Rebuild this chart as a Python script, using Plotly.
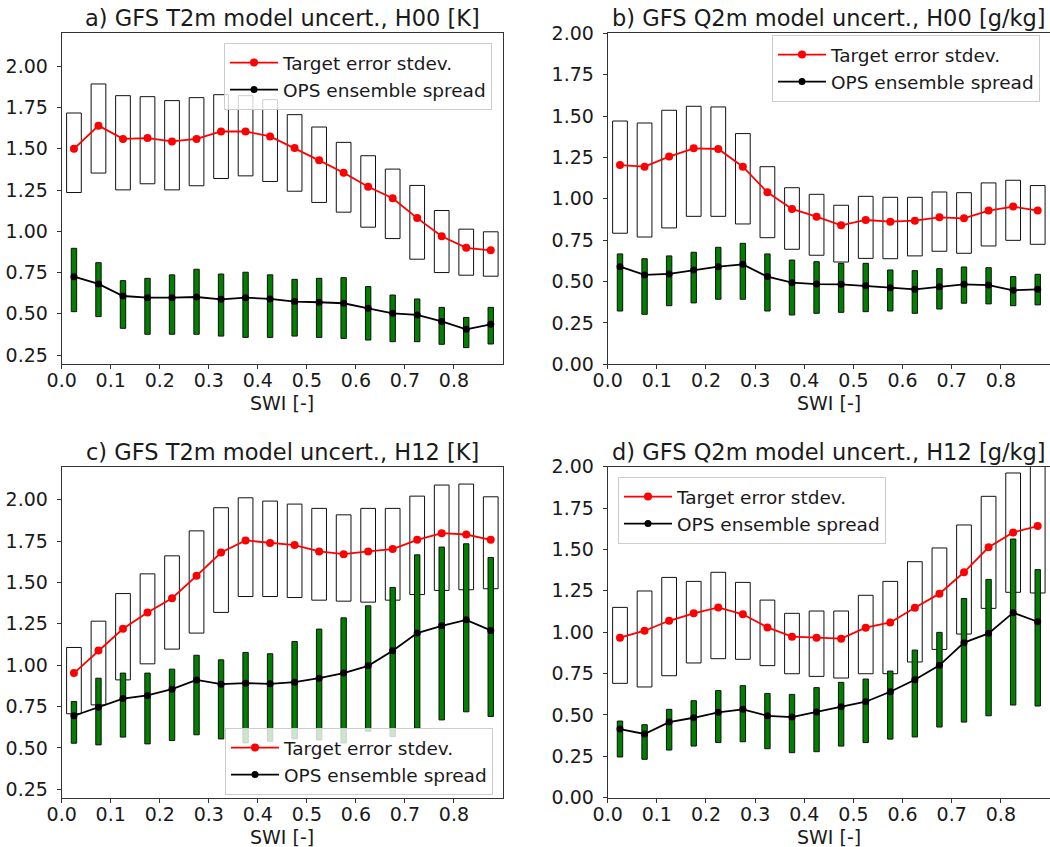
import plotly.graph_objects as go

# SWI bin centres
swi = [0.025, 0.075, 0.125, 0.175, 0.225, 0.275, 0.325, 0.375, 0.425,
       0.475, 0.525, 0.575, 0.625, 0.675, 0.725, 0.775, 0.825, 0.875]

# a) T2m, H00
a_target = [1.50, 1.64, 1.56, 1.565, 1.545, 1.56, 1.605, 1.605, 1.575,
            1.505, 1.43, 1.355, 1.27, 1.20, 1.08, 0.97, 0.90, 0.885]
a_target_hi = [1.717, 1.893, 1.822, 1.816, 1.792, 1.81, 1.828, 1.822, 1.798,
               1.707, 1.632, 1.539, 1.458, 1.377, 1.278, 1.126, 1.013, 0.997]
a_target_lo = [1.235, 1.353, 1.251, 1.288, 1.251, 1.276, 1.320, 1.336, 1.302,
               1.243, 1.175, 1.116, 1.025, 0.956, 0.831, 0.750, 0.734, 0.728]
a_spread = [0.725, 0.681, 0.608, 0.598, 0.598, 0.602, 0.588, 0.598, 0.59,
            0.574, 0.57, 0.564, 0.533, 0.503, 0.493, 0.454, 0.406, 0.436]
a_spread_hi = [0.897, 0.810, 0.701, 0.715, 0.736, 0.770, 0.741, 0.752, 0.736,
               0.709, 0.715, 0.719, 0.665, 0.614, 0.590, 0.539, 0.478, 0.539]
a_spread_lo = [0.513, 0.483, 0.412, 0.376, 0.376, 0.376, 0.365, 0.357, 0.357,
               0.365, 0.357, 0.351, 0.341, 0.331, 0.331, 0.315, 0.295, 0.317]

# b) Q2m, H00
b_target = [1.204, 1.194, 1.255, 1.305, 1.301, 1.194, 1.039, 0.939, 0.892,
            0.840, 0.872, 0.862, 0.868, 0.888, 0.882, 0.929, 0.953, 0.929]
b_target_hi = [1.470, 1.458, 1.535, 1.559, 1.555, 1.394, 1.194, 1.067, 1.027,
               0.961, 1.015, 1.009, 1.009, 1.041, 1.037, 1.096, 1.112, 1.080]
b_target_lo = [0.792, 0.769, 0.824, 0.894, 0.894, 0.848, 0.765, 0.695, 0.659,
               0.618, 0.640, 0.638, 0.655, 0.683, 0.671, 0.715, 0.749, 0.725]
b_spread = [0.590, 0.540, 0.546, 0.570, 0.590, 0.604, 0.530, 0.493, 0.485,
            0.483, 0.475, 0.463, 0.453, 0.469, 0.483, 0.479, 0.447, 0.453]
b_spread_hi = [0.667, 0.638, 0.655, 0.677, 0.707, 0.731, 0.667, 0.630, 0.620,
               0.610, 0.610, 0.570, 0.566, 0.578, 0.588, 0.584, 0.530, 0.544]
b_spread_lo = [0.322, 0.302, 0.354, 0.371, 0.393, 0.393, 0.322, 0.298, 0.308,
               0.314, 0.318, 0.322, 0.308, 0.334, 0.369, 0.365, 0.354, 0.359]

# c) T2m, H12
c_target = [0.952, 1.089, 1.220, 1.319, 1.405, 1.540, 1.681, 1.754, 1.738,
            1.726, 1.688, 1.671, 1.688, 1.702, 1.758, 1.798, 1.790, 1.758]
c_target_hi = [1.107, 1.266, 1.433, 1.552, 1.661, 1.812, 1.952, 2.012, 1.992,
               1.974, 1.948, 1.909, 1.948, 1.948, 2.022, 2.089, 2.095, 2.018]
c_target_lo = [0.706, 0.760, 0.911, 1.008, 1.097, 1.194, 1.319, 1.415, 1.415,
               1.409, 1.393, 1.387, 1.381, 1.393, 1.427, 1.452, 1.456, 1.462]
c_spread = [0.694, 0.746, 0.798, 0.817, 0.855, 0.911, 0.885, 0.891, 0.887,
            0.897, 0.921, 0.952, 0.996, 1.087, 1.194, 1.238, 1.274, 1.210]
c_spread_hi = [0.780, 0.921, 0.952, 0.952, 0.976, 1.060, 1.032, 1.077, 1.069,
               1.143, 1.218, 1.286, 1.359, 1.470, 1.667, 1.714, 1.734, 1.651]
c_spread_lo = [0.528, 0.518, 0.565, 0.524, 0.544, 0.579, 0.554, 0.530, 0.540,
               0.555, 0.548, 0.530, 0.600, 0.569, 0.619, 0.669, 0.718, 0.690]

# d) Q2m, H12
d_target = [0.967, 1.009, 1.069, 1.114, 1.150, 1.108, 1.029, 0.973, 0.967,
            0.961, 1.027, 1.059, 1.148, 1.233, 1.362, 1.513, 1.603, 1.641]
d_target_hi = [1.150, 1.249, 1.331, 1.307, 1.362, 1.301, 1.194, 1.114, 1.128,
               1.128, 1.223, 1.307, 1.426, 1.509, 1.648, 1.821, 1.962, 2.05]
d_target_lo = [0.691, 0.669, 0.737, 0.814, 0.840, 0.836, 0.798, 0.749, 0.733,
               0.723, 0.749, 0.749, 0.820, 0.896, 0.989, 1.144, 1.241, 1.237]
d_spread = [0.415, 0.385, 0.457, 0.483, 0.516, 0.534, 0.495, 0.487, 0.518,
            0.550, 0.580, 0.640, 0.713, 0.800, 0.937, 0.993, 1.118, 1.063]
d_spread_hi = [0.463, 0.441, 0.534, 0.586, 0.647, 0.677, 0.630, 0.624, 0.665,
               0.697, 0.717, 0.765, 0.892, 0.999, 1.204, 1.319, 1.563, 1.378]
d_spread_lo = [0.246, 0.232, 0.288, 0.312, 0.333, 0.338, 0.296, 0.272, 0.278,
               0.312, 0.333, 0.354, 0.367, 0.427, 0.457, 0.495, 0.560, 0.554]

titles = ["a) GFS T2m model uncert., H00 [K]",
          "b) GFS Q2m model uncert., H00 [g/kg]",
          "c) GFS T2m model uncert., H12 [K]",
          "d) GFS Q2m model uncert., H12 [g/kg]"]
x_ticks = [0.0, 0.1, 0.2, 0.3, 0.4, 0.5, 0.6, 0.7, 0.8]
y_ticks_t = [0.25, 0.50, 0.75, 1.00, 1.25, 1.50, 1.75, 2.00]
y_ticks_q = [0.00, 0.25, 0.50, 0.75, 1.00, 1.25, 1.50, 1.75, 2.00]

W, H = 1050, 847
FONT = "DejaVu Sans"
TXT = "#1a1a1a"

panels = [
    dict(t=a_target, thi=a_target_hi, tlo=a_target_lo,
         s=a_spread, shi=a_spread_hi, slo=a_spread_lo,
         xdom=(61.7, 503.0), ydom=(33.3, 364.3), yr=(0.194, 2.20), yt=y_ticks_t,
         leg=(224, 43)),
    dict(t=b_target, thi=b_target_hi, tlo=b_target_lo,
         s=b_spread, shi=b_spread_hi, slo=b_spread_lo,
         xdom=(607.7, 1050.0), ydom=(33.3, 364.3), yr=(0.0, 2.0), yt=y_ticks_q,
         leg=(772, 35)),
    dict(t=c_target, thi=c_target_hi, tlo=c_target_lo,
         s=c_spread, shi=c_spread_hi, slo=c_spread_lo,
         xdom=(61.7, 503.0), ydom=(466.7, 798.3), yr=(0.195, 2.20), yt=y_ticks_t,
         leg=(225, 728)),
    dict(t=d_target, thi=d_target_hi, tlo=d_target_lo,
         s=d_spread, shi=d_spread_hi, slo=d_spread_lo,
         xdom=(607.7, 1050.0), ydom=(466.7, 797.7), yr=(0.0, 2.0), yt=y_ticks_q,
         leg=(618, 477)),
]

fig = go.Figure()
annotations = []
layout = {}

for i, p in enumerate(panels):
    n = "" if i == 0 else str(i + 1)
    xa, ya = "x" + n, "y" + n
    legname = "legend" + n

    # target error range boxes (open rectangles)
    fig.add_trace(go.Bar(
        x=swi, y=[h - l for h, l in zip(p["thi"], p["tlo"])], base=p["tlo"],
        width=0.03, marker=dict(color="rgba(0,0,0,0)",
                                line=dict(color="#111111", width=1)),
        xaxis=xa, yaxis=ya, showlegend=False, hoverinfo="skip"))
    # target error stdev
    fig.add_trace(go.Scatter(
        x=swi, y=p["t"], mode="lines+markers", name="Target error stdev.",
        line=dict(color="#ff0000", width=1.8),
        marker=dict(color="#ff0000", size=8),
        xaxis=xa, yaxis=ya, legend=legname))
    # ensemble spread range bars
    fig.add_trace(go.Bar(
        x=swi, y=[h - l for h, l in zip(p["shi"], p["slo"])], base=p["slo"],
        width=0.011, marker=dict(color="#007f00",
                                 line=dict(color="#111111", width=1)),
        xaxis=xa, yaxis=ya, showlegend=False, hoverinfo="skip"))
    # ensemble spread
    fig.add_trace(go.Scatter(
        x=swi, y=p["s"], mode="lines+markers", name="OPS ensemble spread",
        line=dict(color="#000000", width=1.8),
        marker=dict(color="#000000", size=7),
        xaxis=xa, yaxis=ya, legend=legname))

    x0, x1 = p["xdom"]
    y0, y1 = p["ydom"]
    axis_common = dict(showline=True, mirror=True, linecolor="#333333",
                       linewidth=1, ticks="outside", ticklen=4,
                       tickcolor="#333333", showgrid=False, zeroline=False,
                       automargin=False,
                       tickfont=dict(family=FONT, size=19, color=TXT))
    layout["xaxis" + n] = dict(
        domain=[x0 / W, x1 / W], range=[0, 0.9], anchor=ya,
        tickvals=x_ticks, tickformat=".1f", ticklabelstandoff=-5,
        **axis_common)
    layout["yaxis" + n] = dict(
        domain=[1 - y1 / H, 1 - y0 / H], range=list(p["yr"]), anchor=xa,
        tickvals=p["yt"], tickformat=".2f", ticklabelstandoff=5, **axis_common)

    lx, ly = p["leg"]
    layout[legname] = dict(
        x=lx / W, y=1 - ly / H, xanchor="left", yanchor="top",
        xref="paper", yref="paper",
        bgcolor="rgba(255,255,255,0.8)", bordercolor="#cccccc", borderwidth=1,
        font=dict(family=FONT, size=18.5, color=TXT), itemwidth=48,
        tracegroupgap=0)

    # panel title
    annotations.append(dict(
        text=titles[i], x=(x0 + x1) / 2 / W, y=1 - y0 / H, xref="paper",
        yref="paper", xanchor="center", yanchor="bottom", yshift=0,
        showarrow=False, font=dict(family=FONT, size=22.5, color=TXT)))
    # x-axis label
    annotations.append(dict(
        text="SWI [-]", x=(x0 + x1) / 2 / W, y=1 - y1 / H, xref="paper",
        yref="paper", xanchor="center", yanchor="top", yshift=-26,
        showarrow=False, font=dict(family=FONT, size=19, color=TXT)))

fig.update_layout(
    width=W, height=H, margin=dict(l=0, r=0, t=0, b=0),
    paper_bgcolor="white", plot_bgcolor="white",
    barmode="overlay", annotations=annotations, **layout)

fig.write_html("out.html")
